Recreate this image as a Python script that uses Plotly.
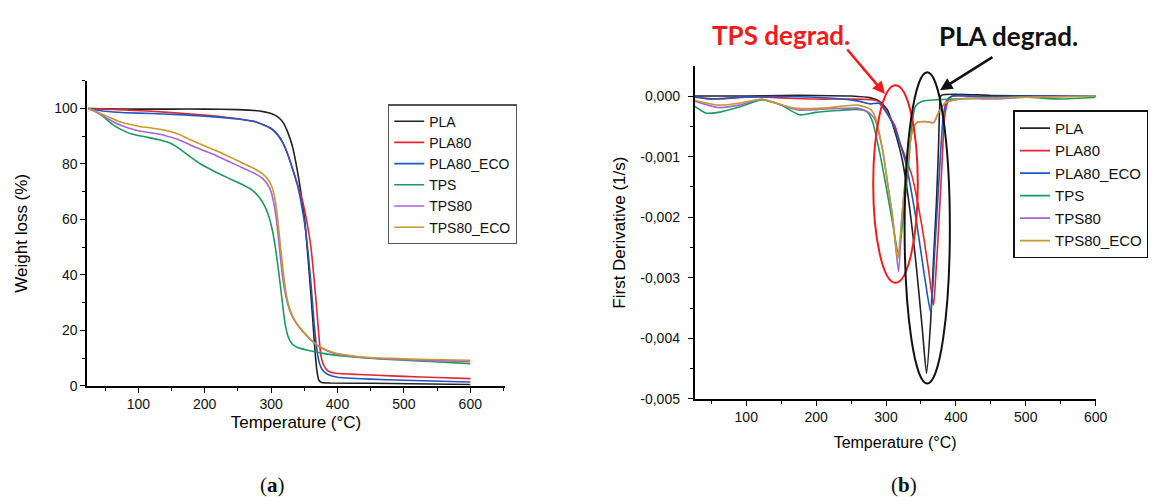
import plotly.graph_objects as go

# ---------------- data: (a) TGA weight loss ----------------
names = ["PLA", "PLA80", "PLA80_ECO", "TPS", "TPS80", "TPS80_ECO"]
colors = ["#222222", "#e3262c", "#2255c4", "#1b9a5c", "#a663d6", "#c39a2c"]

t_pla = [25, 50, 100, 150, 200, 250, 275, 290, 300, 310, 318, 325, 332, 340, 346, 351, 356, 360, 363, 366, 369, 372, 376, 390, 450, 600]
w_pla = [100, 99.9, 99.8, 99.8, 99.8, 99.6, 99.3, 98.8, 98.2, 97.0, 95.0, 91.5, 86.5, 77.0, 68.0, 59.0, 45.0, 33.0, 23.0, 13.0, 5.5, 2.0, 1.2, 1.0, 0.9, 0.5]

t_pla80 = [25, 70, 120, 170, 220, 250, 275, 290, 300, 310, 318, 325, 332, 340, 348, 354, 360, 365, 369, 372, 375, 379, 385, 395, 420, 460, 500, 550, 600]
w_pla80 = [100, 99.6, 99.0, 98.2, 97.2, 96.3, 95.3, 94.0, 92.8, 90.5, 87.5, 83.5, 78.5, 72.5, 66.0, 59.0, 50.0, 38.0, 27.0, 18.0, 11.0, 7.5, 5.5, 4.6, 4.2, 3.8, 3.4, 3.0, 2.6]

t_pla80e = [25, 50, 80, 120, 170, 220, 250, 275, 290, 300, 310, 318, 325, 332, 340, 346, 352, 357, 361, 365, 369, 373, 378, 385, 400, 450, 500, 600]
w_pla80e = [100, 99.0, 98.5, 98.2, 97.7, 96.9, 96.2, 95.3, 94.0, 92.8, 90.5, 87.5, 83.5, 78.5, 72.0, 65.0, 56.0, 45.0, 34.0, 22.0, 13.0, 8.0, 5.5, 4.2, 3.1, 2.4, 2.0, 1.4]

t_tps = [25, 35, 45, 60, 75, 90, 110, 130, 150, 165, 180, 195, 215, 235, 255, 272, 282, 290, 296, 302, 307, 312, 317, 321, 326, 332, 340, 355, 380, 420, 470, 520, 560, 600]
w_tps = [100, 99.0, 97.5, 94.5, 92.3, 90.8, 89.8, 88.8, 87.3, 85.0, 82.3, 79.8, 77.3, 75.0, 72.8, 70.5, 68.0, 65.0, 61.5, 56.0, 49.0, 40.0, 30.0, 22.5, 17.5, 15.0, 13.8, 12.8, 11.6, 10.5, 9.6, 9.0, 8.5, 8.0]

t_tps80 = [25, 40, 55, 70, 85, 100, 120, 140, 160, 180, 200, 220, 240, 260, 275, 287, 295, 300, 304, 308, 312, 316, 320, 325, 330, 338, 348, 360, 375, 395, 430, 480, 540, 600]
w_tps80 = [100, 98.3, 96.2, 94.3, 93.0, 92.0, 91.2, 90.3, 88.8, 86.7, 84.7, 82.7, 80.5, 78.3, 76.6, 74.8, 72.5, 70.0, 66.0, 60.0, 51.0, 42.0, 35.0, 29.5, 26.0, 22.5, 19.5, 16.5, 13.7, 11.7, 10.4, 9.6, 9.1, 8.8]

t_tps80e = [25, 40, 55, 70, 85, 100, 120, 140, 160, 180, 200, 220, 240, 260, 275, 287, 295, 300, 305, 309, 313, 317, 321, 325, 330, 338, 348, 360, 375, 395, 430, 480, 540, 600]
w_tps80e = [100, 98.6, 97.0, 95.4, 94.4, 93.6, 93.0, 92.2, 90.8, 88.6, 86.5, 84.5, 82.3, 80.0, 78.3, 76.5, 74.5, 72.5, 68.5, 62.0, 53.0, 44.0, 36.0, 30.5, 26.5, 22.8, 19.8, 16.7, 13.9, 11.9, 10.6, 9.9, 9.5, 9.2]

# ---------------- data: (b) DTG first derivative ----------------
d_t_pla = [25, 60, 100, 150, 200, 250, 278, 290, 302, 313, 323, 332, 343, 352, 358, 364, 368, 372, 375, 377, 379, 450, 520, 600]
d_pla = [0, 0, 0, 0.00001, 0.00001, 0, -0.00003, -0.00008, -0.00023, -0.0006, -0.00104, -0.00169, -0.00277, -0.00385,
         -0.00458, -0.0037, -0.0027, -0.0018, -0.0009, -0.00015, 0.00001, 0.00001, 0, 0]

d_t_pla80 = [25, 60, 100, 150, 200, 250, 280, 290, 313, 320, 337, 351, 361, 368, 371, 375, 380, 384, 389, 395, 450, 520, 600]
d_pla80 = [-0.00002, -0.00005, -0.00001, -0.00003, -0.00005, -0.00005, -0.00006, -0.00009, -0.0005, -0.00077, -0.00131,
           -0.00212, -0.00288, -0.00345, -0.003, -0.00223, -0.00115, -0.00034, -0.00007, 0, -0.00002, -0.00001, 0]

d_t_pla80e = [25, 47, 80, 120, 200, 259, 278, 290, 302, 313, 328, 342, 356, 364, 370, 377, 382, 387, 395, 450, 520, 600]
d_pla80e = [0, -0.00005, -0.00003, -0.00001, -0.00002, -0.00008, -0.00013, -0.00012, -0.0003, -0.00055, -0.00109, -0.00196,
            -0.00304, -0.00357, -0.0025, -0.00115, -0.00033, -0.00007, 0, -0.00001, 0, 0]

d_t_tps = [25, 42, 60, 90, 122, 150, 176, 200, 230, 258, 272, 280, 290, 299, 309, 318, 325, 332, 337, 342, 351, 375, 420, 500, 550, 600]
d_tps = [-0.00016, -0.00028, -0.00027, -0.00018, -0.000065, -0.00015, -0.00031, -0.00027, -0.00024, -0.00022, -0.00025,
         -0.0004, -0.00088, -0.00142, -0.00207, -0.00261, -0.00196, -0.00115, -0.0005, -0.00017, -0.00009, -0.00006,
         -0.00004, -0.00002, -0.00005, -0.00002]

d_t_tps80 = [25, 60, 90, 122, 174, 220, 259, 275, 283, 295, 302, 309, 313, 318, 323, 330, 337, 344, 356, 368, 375, 384, 396, 413, 450, 500, 600]
d_tps80 = [-0.00008, -0.00019, -0.00015, -0.000054, -0.00023, -0.00021, -0.0002, -0.00027, -0.00036, -0.00088, -0.00142,
           -0.00196, -0.00239, -0.0029, -0.00196, -0.00115, -0.00061, -0.00044, -0.00042, -0.00044, -0.00028, -0.00012,
           -0.00007, -0.00004, -0.00005, -0.00002, 0]

d_t_tps80e = [25, 60, 90, 122, 169, 211, 259, 278, 285, 295, 302, 309, 313, 317, 323, 330, 337, 344, 356, 368, 375, 384, 396, 413, 500, 600]
d_tps80e = [-0.000065, -0.00015, -0.00012, -0.000054, -0.0002, -0.0002, -0.00015, -0.00022, -0.00036, -0.00088, -0.00142,
            -0.00196, -0.00239, -0.00269, -0.00196, -0.00115, -0.00061, -0.00044, -0.00042, -0.00044, -0.00028, -0.00012,
            -0.00007, -0.00004, -0.00002, 0]

dtg_ticks = [0, -0.001, -0.002, -0.003, -0.004, -0.005]
dtg_ticktext = ["0,000", "-0,001", "-0,002", "-0,003", "-0,004", "-0,005"]

tga = [(t_pla, w_pla), (t_pla80, w_pla80), (t_pla80e, w_pla80e), (t_tps, w_tps), (t_tps80, w_tps80), (t_tps80e, w_tps80e)]
dtg = [(d_t_pla, d_pla), (d_t_pla80, d_pla80), (d_t_pla80e, d_pla80e), (d_t_tps, d_tps), (d_t_tps80, d_tps80), (d_t_tps80e, d_tps80e)]

W, H = 1161, 497
FONT = "Liberation Sans, Arial, sans-serif"

fig = go.Figure()
for (x, y), n, c in zip(tga, names, colors):
    fig.add_trace(go.Scatter(x=x, y=y, name=n, mode="lines", xaxis="x", yaxis="y", legend="legend",
                             line=dict(color=c, width=1.6, shape="spline", smoothing=0.5)))
for (x, y), n, c in zip(dtg, names, colors):
    fig.add_trace(go.Scatter(x=x, y=y, name=n, mode="lines", xaxis="x2", yaxis="y2", legend="legend2",
                             line=dict(color=c, width=1.6, shape="spline", smoothing=0.6)))

axis_common = dict(showline=True, linecolor="black", linewidth=1.5, ticks="outside", ticklen=5, tickwidth=1.3,
                   tickcolor="black", showgrid=False, zeroline=False, tickfont=dict(size=14, color="#111"))

fig.update_layout(
    width=W, height=H, margin=dict(l=0, r=0, t=0, b=0),
    paper_bgcolor="white", plot_bgcolor="white",
    font=dict(family=FONT, color="black"),
    xaxis=dict(axis_common, domain=[80 / W, 502 / W], range=[23, 652], anchor="y", tick0=0, dtick=100,
               minor=dict(ticks="outside", ticklen=3, dtick=50, tick0=0, tickcolor="black"),
               title=dict(text="Temperature (°C)", font=dict(size=17), standoff=5)),
    yaxis=dict(axis_common, domain=[(H - 384) / H, (H - 74) / H], range=[0, 110], anchor="x", tick0=0, dtick=20,
               minor=dict(ticks="outside", ticklen=3, dtick=10, tick0=0, tickcolor="black"),
               title=dict(text="Weight loss (%)", font=dict(size=17), standoff=22)),
    xaxis2=dict(axis_common, domain=[693.7 / W, 1099 / W], range=[26, 600], anchor="y2", tick0=0, dtick=100,
                minor=dict(ticks="outside", ticklen=3, dtick=50, tick0=0, tickcolor="black"),
                title=dict(text="Temperature (°C)", font=dict(size=16), standoff=12)),
    yaxis2=dict(axis_common, domain=[(H - 397.3) / H, (H - 59.3) / H], range=[-0.005, 0.00049], anchor="x2",
                tickmode="array", tickvals=dtg_ticks, ticktext=dtg_ticktext, ticklabelstandoff=5,
                minor=dict(ticks="outside", ticklen=3, dtick=0.0005, tick0=0, tickcolor="black"),
                title=dict(text="First Derivative (1/s)", font=dict(size=17), standoff=10)),
    legend=dict(x=384 / W, y=1 - 98 / H, xanchor="left", yanchor="top", bgcolor="white",
                bordercolor="#555", borderwidth=1.2, font=dict(size=14, color="#111"), tracegroupgap=0),
    legend2=dict(x=1016 / W, y=1 - 104 / H, xanchor="left", yanchor="top", bgcolor="white",
                 bordercolor="#111", borderwidth=1.5, font=dict(size=15, color="#111"), tracegroupgap=0),
    shapes=[
        dict(type="circle", xref="x2", yref="y2", x0=281.7, x1=345.5, y0=-0.003084, y1=0.000179,
             line=dict(color="#ee1c1c", width=2)),
        dict(type="circle", xref="x2", yref="y2", x0=326.6, x1=391.4, y0=-0.004747, y1=0.000394,
             line=dict(color="#111", width=2)),
    ],
    annotations=[
        dict(x=298.6, y=0.0000325, xref="x2", yref="y2", ax=-39, ay=-46, text="", showarrow=True,
             arrowcolor="#ee1c1c", arrowwidth=2.5, arrowhead=2, arrowsize=1),
        dict(x=377.2, y=0.0000974, xref="x2", yref="y2", ax=54, ay=-34, text="", showarrow=True,
             arrowcolor="#111", arrowwidth=2.5, arrowhead=2, arrowsize=1),
        dict(x=781 / W, y=1 - 27 / H, xref="paper", yref="paper", xanchor="center", yanchor="middle",
             text="<b>TPS degrad.</b>", showarrow=False,
             font=dict(family="Lato, Liberation Sans, sans-serif", size=26, color="#ee1c1c")),
        dict(x=1010.6 / W, y=1 - 28 / H, xref="paper", yref="paper", xanchor="center", yanchor="middle",
             text="<b>PLA degrad.</b>", showarrow=False,
             font=dict(family="Lato, Liberation Sans, sans-serif", size=26, color="#111")),
        dict(x=267 / W, y=1 - 485 / H, xref="paper", yref="paper", xanchor="center", yanchor="middle",
             text="(<b>a</b>)", showarrow=False,
             font=dict(family="Liberation Serif, serif", size=21, color="#111")),
        dict(x=905 / W, y=1 - 485 / H, xref="paper", yref="paper", xanchor="center", yanchor="middle",
             text="(<b>b</b>)", showarrow=False,
             font=dict(family="Liberation Serif, serif", size=21, color="#111")),
    ],
)

fig.write_html("out.html")
